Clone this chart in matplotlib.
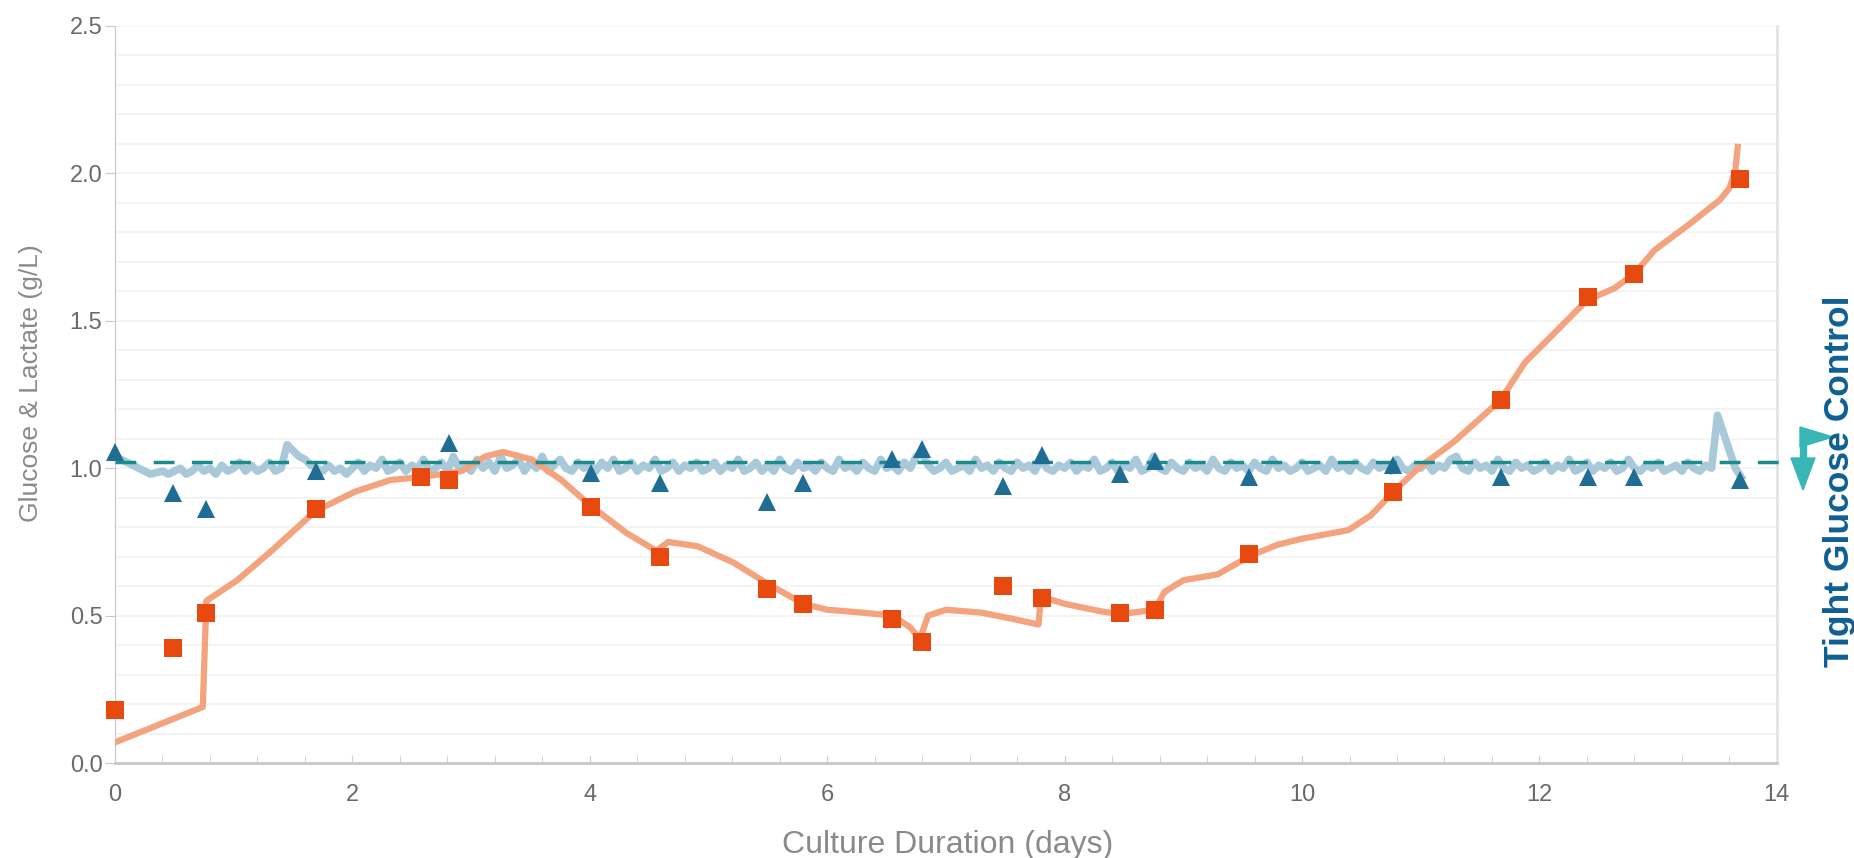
import numpy as np
import matplotlib
matplotlib.use("Agg")
import matplotlib.pyplot as plt
from matplotlib.ticker import MultipleLocator, FormatStrFormatter
from matplotlib.patches import Polygon

plt.rcParams['font.family'] = ['Liberation Sans', 'DejaVu Sans']

# Offline samples (days and g/L)
sample_days = [0.0, 0.49, 0.77, 1.69, 2.58, 2.81, 4.01, 4.59, 5.49, 5.80, 6.55,
               6.80, 7.48, 7.81, 8.47, 8.76, 9.55, 10.77, 11.68, 12.41, 12.80, 13.69]
lactate_samples = [0.18, 0.39, 0.51, 0.86, 0.97, 0.96, 0.87, 0.70, 0.59, 0.54, 0.49,
                   0.41, 0.60, 0.56, 0.51, 0.52, 0.71, 0.92, 1.23, 1.58, 1.66, 1.98]
glucose_days = [0.0, 0.49, 0.77, 1.69, 2.81, 4.01, 4.59, 5.49, 5.80, 6.55, 6.80,
                7.48, 7.81, 8.47, 8.76, 9.55, 10.77, 11.68, 12.41, 12.80, 13.69]
glucose_samples = [1.055, 0.915, 0.86, 0.99, 1.085, 0.985, 0.95, 0.885, 0.95, 1.03, 1.065,
                   0.94, 1.045, 0.98, 1.025, 0.97, 1.01, 0.97, 0.97, 0.97, 0.96]

# Online lactate trace
lactate_trace_days = [0.0, 0.74, 0.77, 1.03, 1.32, 1.69, 2.02, 2.32, 2.58, 2.92, 3.12, 3.27,
                      3.51, 3.76, 4.0, 4.31, 4.56, 4.66, 4.91, 5.21, 5.49, 5.8, 6.0, 6.3,
                      6.55, 6.7, 6.78, 6.85, 7.0, 7.3, 7.55, 7.78, 7.8, 8.0, 8.3, 8.47,
                      8.76, 8.84, 9.0, 9.29, 9.55, 9.79, 9.99, 10.39, 10.58, 10.77, 10.98,
                      11.28, 11.67, 11.88, 12.08, 12.4, 12.63, 12.8, 12.97, 13.27, 13.52,
                      13.6, 13.65, 13.67]
lactate_trace = [0.07, 0.19, 0.55, 0.62, 0.72, 0.855, 0.92, 0.96, 0.97, 0.99, 1.04, 1.055,
                 1.03, 0.96, 0.875, 0.78, 0.72, 0.75, 0.735, 0.68, 0.61, 0.54, 0.52, 0.51,
                 0.50, 0.46, 0.42, 0.50, 0.52, 0.51, 0.49, 0.47, 0.565, 0.54, 0.515, 0.505,
                 0.52, 0.58, 0.62, 0.64, 0.70, 0.74, 0.76, 0.79, 0.84, 0.92, 1.00,
                 1.09, 1.23, 1.36, 1.44, 1.57, 1.61, 1.66, 1.74, 1.83, 1.91,
                 1.95, 2.01, 2.09]

# Online glucose trace, one value every 0.05 day (one row per day)
glucose_trace = [
    1.04, 1.03, 1.02, 1.01, 1.00, 0.99, 0.98, 0.985, 0.99, 0.98, 0.99, 1.00, 0.98, 0.99, 1.01, 0.99, 1.00, 0.98, 1.01, 0.99,
    1.00, 1.02, 0.99, 1.01, 0.99, 1.00, 1.02, 0.99, 1.00, 1.08, 1.06, 1.04, 1.03, 1.01, 1.00, 0.99, 1.01, 0.99, 1.00, 0.98,
    1.00, 1.02, 0.99, 1.01, 1.00, 1.03, 0.99, 1.00, 1.02, 0.99, 1.01, 1.00, 1.03, 0.99, 1.00, 1.02, 0.99, 1.04, 1.00, 1.01,
    0.99, 1.03, 1.00, 1.02, 0.99, 1.04, 1.00, 1.01, 1.03, 0.99, 1.02, 1.00, 1.04, 0.99, 1.01, 1.03, 1.00, 0.99, 1.02, 1.00,
    1.01, 0.99, 1.02, 1.00, 1.03, 0.99, 1.00, 1.02, 0.99, 1.01, 1.00, 1.03, 0.99, 1.00, 1.02, 0.99, 1.01, 1.00, 1.02, 0.99,
    1.00, 1.02, 0.99, 1.01, 1.00, 1.03, 0.99, 1.00, 1.02, 0.99, 1.01, 0.99, 1.03, 1.00, 0.99, 1.02, 1.00, 1.01, 0.99, 1.02,
    1.00, 0.99, 1.03, 1.00, 1.01, 0.99, 1.02, 1.00, 0.99, 1.03, 1.00, 1.01, 0.99, 1.02, 1.00, 1.04, 1.05, 1.01, 0.99, 1.00,
    1.02, 0.99, 1.00, 1.01, 0.99, 1.03, 1.00, 1.01, 0.99, 1.02, 1.00, 0.99, 1.02, 1.00, 1.01, 0.99, 1.03, 1.00, 0.99, 1.01,
    1.00, 1.02, 0.99, 1.01, 1.00, 1.03, 0.99, 1.00, 1.02, 0.99, 1.01, 1.00, 1.03, 0.99, 1.00, 1.04, 1.00, 0.99, 1.02, 1.00,
    0.99, 1.02, 1.00, 1.01, 0.99, 1.03, 1.00, 0.99, 1.02, 1.00, 1.01, 0.99, 1.02, 1.00, 0.99, 1.03, 1.00, 1.01, 0.99, 1.00,
    1.02, 0.99, 1.00, 1.01, 0.99, 1.03, 1.00, 1.01, 0.99, 1.02, 1.00, 0.99, 1.02, 1.00, 1.01, 0.99, 1.03, 1.00, 0.99, 1.01,
    1.00, 1.02, 0.99, 1.01, 1.00, 1.03, 1.04, 1.00, 0.99, 1.02, 1.00, 1.01, 0.99, 1.03, 1.00, 0.99, 1.02, 1.00, 1.01, 0.99,
    1.00, 1.02, 0.99, 1.01, 1.00, 1.03, 0.99, 1.00, 1.02, 0.99, 1.01, 1.00, 1.02, 0.99, 1.00, 1.03, 1.00, 0.99, 1.01, 1.00,
    1.02, 0.99, 1.00, 1.01, 0.99, 1.02, 1.00, 0.99, 1.01, 1.00, 1.18, 1.12, 1.06, 1.00, 0.97,
]
glucose_trace_days = np.arange(len(glucose_trace)) / 20.0

setpoint = 1.02

fig = plt.figure(figsize=(18.54, 8.58), dpi=100)
ax = fig.add_axes([0.0620, 0.1107, 0.8964, 0.8590])

ax.plot(glucose_trace_days, glucose_trace, color='#a9c9da', lw=5.5, zorder=2)
ax.plot(lactate_trace_days, lactate_trace, color='#f3a37e', lw=4.5, zorder=3)
ax.plot([0, 14.09], [setpoint, setpoint], color='#1b8c8c', lw=2.5,
        dashes=(6, 5), zorder=4, clip_on=False)
ax.plot(glucose_days, glucose_samples, '^', color='#1f6d94', ms=13.5, mew=0,
        zorder=5, clip_on=False)
ax.plot(sample_days, lactate_samples, 's', color='#e8490f', ms=13, mew=0,
        zorder=6, clip_on=False)

ax.set_xlim(0, 14)
ax.set_ylim(0, 2.5)
ax.xaxis.set_major_locator(MultipleLocator(2))
ax.xaxis.set_minor_locator(MultipleLocator(0.4))
ax.yaxis.set_major_locator(MultipleLocator(0.5))
ax.yaxis.set_minor_locator(MultipleLocator(0.1))
ax.yaxis.set_major_formatter(FormatStrFormatter('%.1f'))

ax.grid(True, which='both', axis='y', color='#f2f2f2', lw=1.2)
ax.set_axisbelow(True)
ax.spines['top'].set_visible(False)
ax.spines['left'].set_color('#c8c8c8')
ax.spines['right'].set_color('#e4e4e4')
ax.spines['right'].set_linewidth(2)
ax.spines['bottom'].set_color('#c8c8c8')
ax.spines['bottom'].set_linewidth(2)

ax.tick_params(axis='x', which='both', direction='in', length=6, color='#d0d0d0',
               labelsize=17, labelcolor='#6a6a6a', pad=15)
ax.tick_params(axis='y', which='major', direction='out', length=7, color='#c8c8c8',
               labelsize=17, labelcolor='#6a6a6a', pad=2)
ax.tick_params(axis='y', which='minor', length=0)

ax.set_xlabel('Culture Duration (days)', fontsize=23, color='#8a8a8a')
ax.set_ylabel('Glucose & Lactate (g/L)', fontsize=19, color='#8a8a8a')
ax.xaxis.set_label_coords(0.501, -0.091)
ax.yaxis.set_label_coords(-0.043, 0.516)

# Setpoint marker beside the plot
W, H = 1854.0, 858.0
def fp(x, y):
    return (x / W, 1 - y / H)
arrow_col = '#38b6b6'
fig.patches.append(Polygon([fp(1800, 427), fp(1833, 437), fp(1800, 447)], closed=True,
                           transform=fig.transFigure, color=arrow_col))
fig.patches.append(Polygon([fp(1800, 437), fp(1806, 437), fp(1806, 460), fp(1800, 460)],
                           closed=True, transform=fig.transFigure, color=arrow_col))
fig.patches.append(Polygon([fp(1791, 458), fp(1815, 458), fp(1803, 490)], closed=True,
                           transform=fig.transFigure, color=arrow_col))

fig.text(1839 / W, 1 - 481 / H, 'Tight Glucose Control', rotation=90, fontsize=25.5,
         fontweight='bold', color='#0f5f93', ha='center', va='center')

fig.savefig('out.png', dpi=100)
